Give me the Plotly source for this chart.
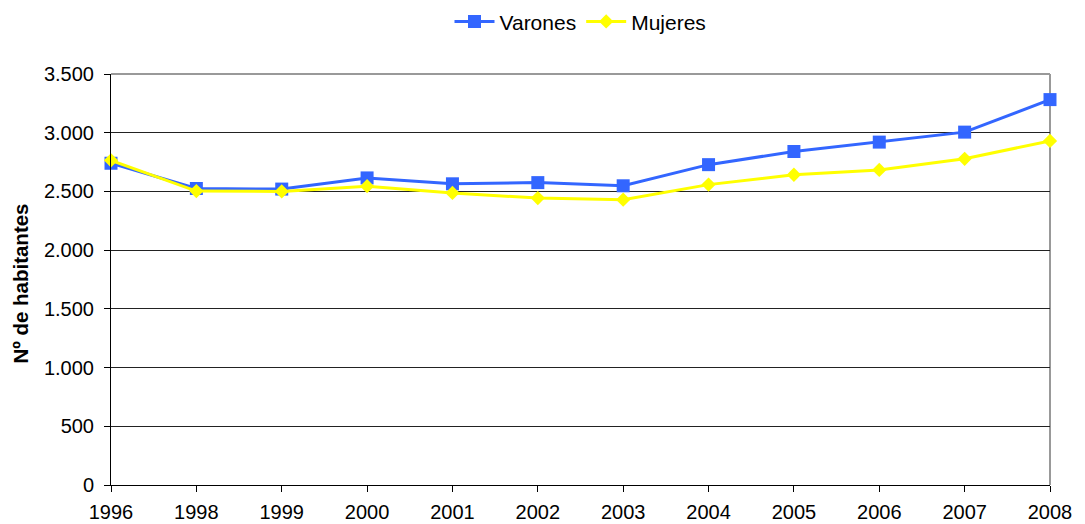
import plotly.graph_objects as go

years = ["1996", "1998", "1999", "2000", "2001", "2002", "2003", "2004", "2005", "2006", "2007", "2008"]
varones = [2740, 2525, 2520, 2615, 2565, 2575, 2548, 2728, 2840, 2920, 3005, 3282]
mujeres = [2765, 2503, 2500, 2545, 2487, 2443, 2430, 2558, 2642, 2683, 2778, 2930]
y_ticks = [0, 500, 1000, 1500, 2000, 2500, 3000, 3500]
y_ticklabels = ["0", "500", "1.000", "1.500", "2.000", "2.500", "3.000", "3.500"]

FONT = "Liberation Sans, Arial, sans-serif"

fig = go.Figure()
fig.add_trace(go.Scatter(
    x=years, y=varones, name="Varones", mode="lines+markers",
    line=dict(color="#3366FF", width=3),
    marker=dict(symbol="square", size=13, color="#3366FF"),
    cliponaxis=False,
))
fig.add_trace(go.Scatter(
    x=years, y=mujeres, name="Mujeres", mode="lines+markers",
    line=dict(color="#FFFF00", width=3),
    marker=dict(symbol="diamond", size=11, color="#FFFF00"),
    cliponaxis=False,
))

fig.update_layout(
    width=1077, height=516,
    margin=dict(l=103, r=35, t=66, b=39, autoexpand=False),
    paper_bgcolor="white", plot_bgcolor="white",
    font=dict(family=FONT, size=20, color="black"),
    showlegend=True,
    legend=dict(orientation="h", x=0.5, xanchor="center", y=1.127, yanchor="middle",
                font=dict(size=21), itemwidth=40,
                traceorder="normal", bgcolor="rgba(0,0,0,0)"),
    xaxis=dict(type="category", range=[0, 11], showgrid=False, zeroline=False,
               automargin=False,
               showline=True, linecolor="black", linewidth=1,
               ticks="outside", ticklen=6, tickcolor="black",
               ticklabelstandoff=3,
               tickfont=dict(size=20)),
    yaxis=dict(range=[0, 3500], tickvals=y_ticks, ticktext=y_ticklabels,
               automargin=False,
               showgrid=True, gridcolor="#222222", gridwidth=1, zeroline=False,
               showline=True, linecolor="black", linewidth=1,
               ticks="outside", ticklen=6, tickcolor="black",
               ticklabelstandoff=6,
               tickfont=dict(size=20)),
    annotations=[
        dict(text="<b>Nº de habitantes</b>", xref="paper", yref="paper",
             x=0, y=0.49, xanchor="center", yanchor="middle", xshift=-90,
             textangle=-90, showarrow=False, font=dict(size=20.5),
             borderpad=0),
    ],
    shapes=[
        dict(type="line", xref="x domain", yref="y domain", x0=0, x1=1, y0=1, y1=1,
             line=dict(color="#999999", width=2), layer="above"),
        dict(type="line", xref="x domain", yref="y domain", x0=1, x1=1, y0=0, y1=1,
             line=dict(color="#999999", width=2), layer="below"),
    ],
)

fig.write_html("out.html")
